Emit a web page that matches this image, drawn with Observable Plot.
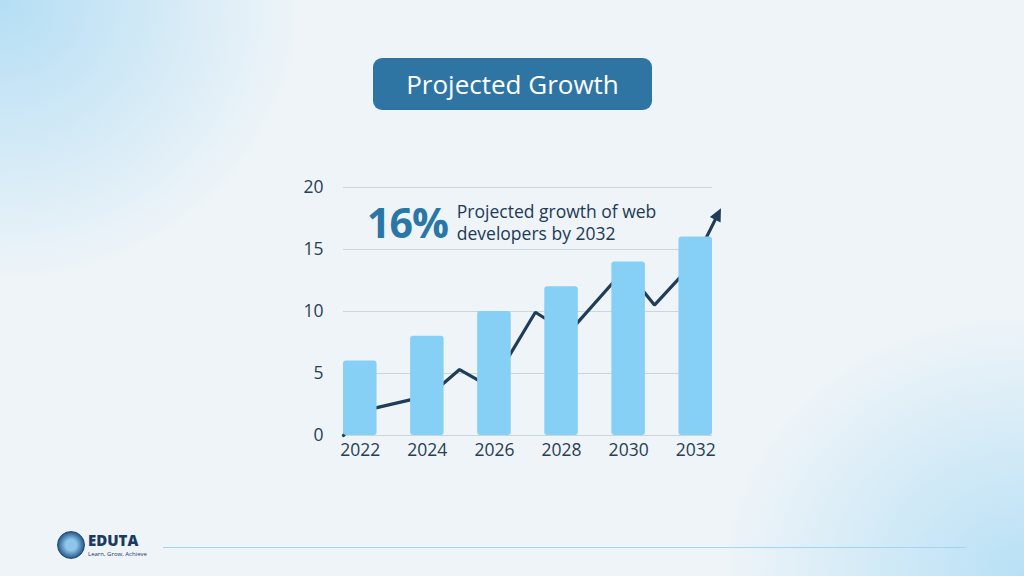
<!DOCTYPE html>
<html>
<head>
<meta charset="utf-8">
<script src="https://cdn.jsdelivr.net/npm/d3@7"></script>
<script src="https://cdn.jsdelivr.net/npm/@observablehq/plot@0.6"></script>
<style>
  html, body { margin: 0; padding: 0; }
  body {
    width: 1024px; height: 576px; overflow: hidden; position: relative;
    font-family: "Open Sans", "Noto Sans", sans-serif;
    background:
      radial-gradient(ellipse 300px 280px at 0px 0px, rgba(170,218,244,0.85), rgba(170,218,244,0) 100%),
      radial-gradient(ellipse 300px 260px at 1024px 576px, rgba(178,222,245,0.9), rgba(178,222,245,0) 100%),
      #eef4f8;
  }
  #chart { position: absolute; left: 0; top: 0; }
  #title {
    position: absolute; left: 373px; top: 58px; width: 279px; height: 52px;
    background: #2e75a3; border-radius: 9px; color: #fff;
    font-size: 26px; line-height: 52px; text-align: center; font-weight: 500;
  }
  #note { position: absolute; left: 367px; top: 194px; display: flex; align-items: center; }
  #pct { font-size: 41px; font-weight: 700; color: #2a76a6; letter-spacing: -1px; }
  #desc { margin-left: 9px; font-size: 17.5px; color: #223a55; line-height: 22px; }
  #logo { position: absolute; left: 57px; top: 531px; display: flex; align-items: center; }
  #icon { width: 26px; height: 26px; border-radius: 50%; background: radial-gradient(circle, #8fc5ea 30%, #2b5f8e 70%); border: 1px solid #1d4a78; }
  #brand { margin-left: 3px; }
  #brand b { display: block; font-size: 15px; color: #1c3a63; line-height: 15px; font-weight: 800; }
  #brand span { display: block; font-size: 6px; color: #1c3a63; line-height: 7px; margin-top: 3px; }
  #rule { position: absolute; left: 163px; top: 547px; width: 803px; height: 1px; background: #9fd6f4; }
</style>
</head>
<body>
<div id="title">Projected Growth</div>
<div id="chart"></div>
<div id="note"><div id="pct">16%</div><div id="desc">Projected growth of web<br>developers by 2032</div></div>
<div id="logo"><div id="icon"></div><div id="brand"><b>EDUTA</b><span>Learn, Grow, Achieve</span></div></div>
<div id="rule"></div>
<script>
const years = [2022, 2024, 2026, 2028, 2030, 2032];
const values = [6, 8, 10, 12, 14, 16];
const yTicks = [0, 5, 10, 15, 20];
// zigzag trend line behind the bars (fractional years, value units)
const trendX = [2021.5, 2022.14, 2024.07, 2024.96, 2025.88, 2027.22, 2028.2, 2029.9, 2030.77, 2031.95, 2032.66];
const trendY = [0, 2.03, 3.24, 5.32, 3.9, 9.94, 8.26, 13.45, 10.52, 13.98, 17.83];

const bars = years.map((y, i) => ({year: y, value: values[i]}));
const trend = trendX.map((x, i) => ({x, y: trendY[i]}));

function arrowHead(color) {
  const ns = "http://www.w3.org/2000/svg";
  const m = document.createElementNS(ns, "marker");
  m.setAttribute("viewBox", "-8 -8 16 16");
  m.setAttribute("markerUnits", "userSpaceOnUse");
  m.setAttribute("markerWidth", 16);
  m.setAttribute("markerHeight", 16);
  m.setAttribute("orient", "auto");
  const p = document.createElementNS(ns, "path");
  p.setAttribute("d", "M-6,-6L7,0L-6,6Z");
  p.setAttribute("fill", color);
  p.setAttribute("stroke", "none");
  m.appendChild(p);
  return m;
}

const chart = Plot.plot({
  width: 1024,
  height: 576,
  marginLeft: 343,
  marginRight: 312,
  marginTop: 187,
  marginBottom: 141,
  style: {background: "transparent", fontFamily: "'Open Sans', sans-serif", color: "#2a3d55", overflow: "visible"},
  x: {domain: [2021.5, 2032.5], label: null},
  y: {domain: [0, 20], label: null},
  marks: [
    Plot.ruleY(yTicks, {stroke: "#cbd5dc", strokeWidth: 1.2}),
    Plot.line(trend, {x: "x", y: "y", stroke: "#1f3c58", strokeWidth: 3.2, markerEnd: arrowHead, strokeLinejoin: "miter"}),
    Plot.rectY(bars, {x1: d => d.year - 0.5, x2: d => d.year + 0.5, y: "value", fill: "#87d0f5", rx: 3}),
    Plot.axisY(yTicks, {tickSize: 0, tickPadding: 20, fontSize: 17.5, fill: "#2a3d55"}),
    Plot.axisX(years, {tickSize: 0, tickPadding: 8, fontSize: 17.5, fill: "#2a3d55", tickFormat: d => String(d)})
  ]
});
document.getElementById("chart").appendChild(chart);
</script>
</body>
</html>
